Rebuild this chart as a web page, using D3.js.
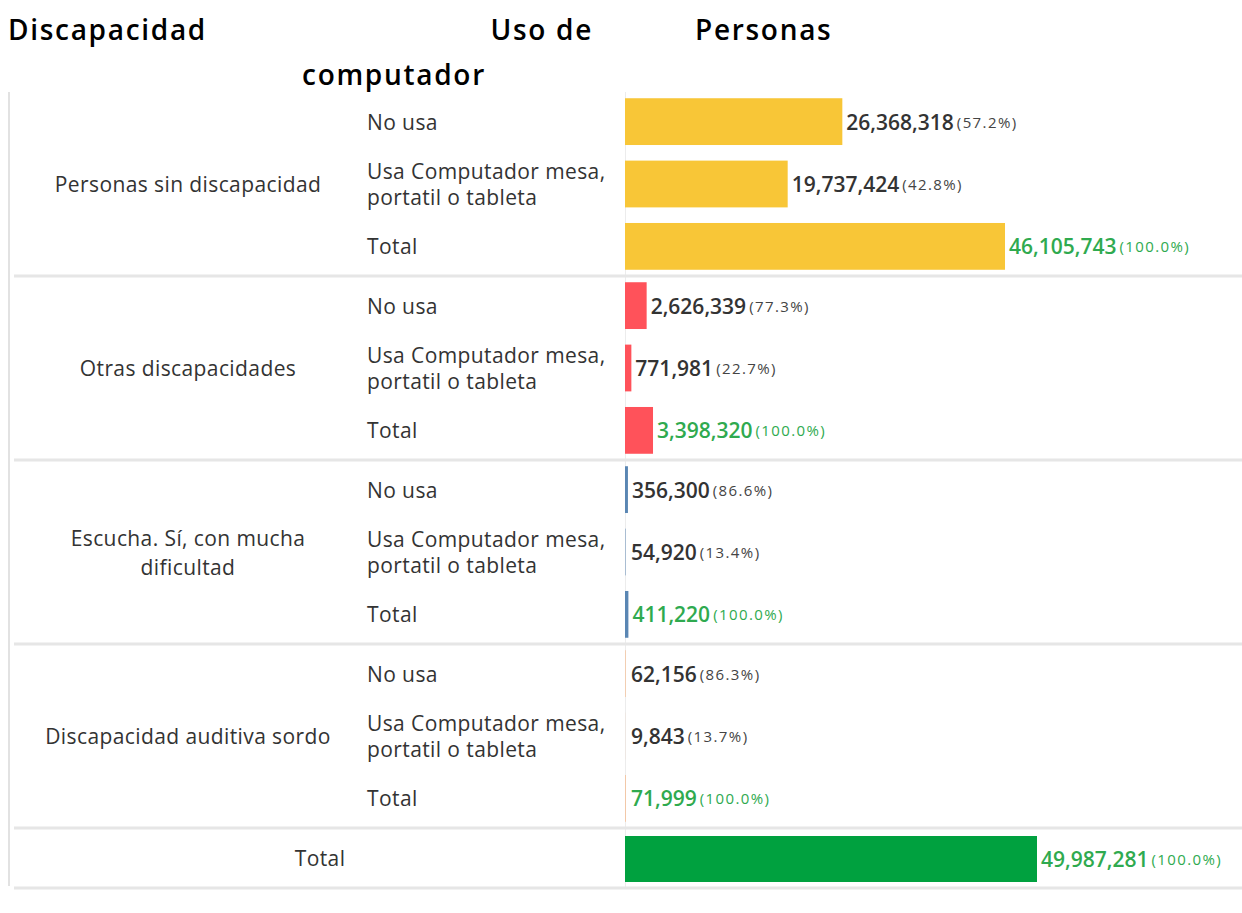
<!DOCTYPE html>
<html>
<head>
<meta charset="utf-8">
<script src="https://cdn.jsdelivr.net/npm/d3@7"></script>
<style>
  body { margin: 0; background: #fff; }
  svg { display: block; font-family: "Open Sans", sans-serif; }
</style>
</head>
<body>
<div id="chart"></div>
<script>
// categories
const discapacidades = ["Personas sin discapacidad", "Otras discapacidades", "Escucha. Sí, con mucha dificultad", "Discapacidad auditiva sordo"];
const usos = ["No usa", "Usa Computador mesa, portatil o tableta", "Total"];
// personas por grupo (No usa, Usa, Total)
const personas = [
  [26368318, 19737424, 46105743],
  [2626339, 771981, 3398320],
  [356300, 54920, 411220],
  [62156, 9843, 71999]
];
const porcentajes = [
  [57.2, 42.8, 100.0],
  [77.3, 22.7, 100.0],
  [86.6, 13.4, 100.0],
  [86.3, 13.7, 100.0]
];
const totalLabel = "Total";
const totalPersonas = 49987281;
const totalPct = 100.0;
const groupColors = ["#F8C637", "#FF525A", "#5A86B3", "#F7B07A"];
const totalColor = "#00A13F";

const width = 1242, height = 913;
const topY = 92, groupH = 184, totalH = 60;
const x0 = 625;

const svg = d3.select("#chart").append("svg")
    .attr("width", width)
    .attr("height", height);

// column headers
const hdr = svg.append("g")
    .style("font-size", "28px").style("font-weight", 600).style("fill", "#000")
    .style("letter-spacing", "1.7px");
hdr.append("text").attr("x", 8).attr("y", 40).text("Discapacidad");
hdr.append("text").attr("x", 593).attr("y", 40).attr("text-anchor", "end").text("Uso de");
hdr.append("text").attr("x", 394).attr("y", 85).attr("text-anchor", "middle").text("computador");
hdr.append("text").attr("x", 695).attr("y", 40).text("Personas");

const x = d3.scaleLinear()
    .domain([0, totalPersonas])
    .range([x0, 1037]);

const yGroup = d3.scaleBand()
    .domain(discapacidades)
    .range([topY, topY + groupH * discapacidades.length]);

const yRow = d3.scaleBand()
    .domain(usos)
    .range([0, groupH])
    .paddingInner(0.25)
    .paddingOuter(0.1);

const fmt = d3.format(",");
const fmtPct = d3.format(".1f");

// wrap text into tspans
function wrap(textSel, maxW, lineH) {
  textSel.each(function() {
    const t = d3.select(this);
    const words = t.text().split(/\s+/);
    const xPos = t.attr("x");
    t.text(null);
    let lines = [], line = [];
    const probe = t.append("tspan");
    words.forEach(w => {
      line.push(w);
      probe.text(line.join(" "));
      if (probe.node().getComputedTextLength() > maxW && line.length > 1) {
        line.pop();
        lines.push(line.join(" "));
        line = [w];
      }
    });
    lines.push(line.join(" "));
    probe.remove();
    lines.forEach((l, i) => {
      t.append("tspan")
        .attr("x", xPos)
        .attr("dy", i === 0 ? (-(lines.length - 1) / 2 * lineH) + "px" : lineH + "px")
        .text(l);
    });
  });
}

// grid lines
svg.append("line")
    .attr("x1", 9).attr("x2", 9).attr("y1", topY).attr("y2", topY + groupH * 4 + totalH - 2)
    .attr("stroke", "#e2e2e2").attr("stroke-width", 2);
svg.append("line")
    .attr("x1", x0 + 0.5).attr("x2", x0 + 0.5).attr("y1", topY).attr("y2", topY + groupH * 4 + totalH)
    .attr("stroke", "#ececec").attr("stroke-width", 1);
d3.range(1, discapacidades.length + 2).forEach(i => {
  const yy = topY + Math.min(i, 4) * groupH + (i > 4 ? totalH : 0);
  svg.append("line")
    .attr("x1", 14).attr("x2", width)
    .attr("y1", yy).attr("y2", yy)
    .attr("stroke", "#e6e6e6").attr("stroke-width", 3);
});

const group = svg.selectAll("g.grupo")
  .data(discapacidades)
  .join("g")
    .attr("class", "grupo")
    .attr("transform", d => `translate(0,${yGroup(d)})`);

group.append("text")
    .attr("x", 188)
    .attr("y", groupH / 2)
    .attr("text-anchor", "middle")
    .attr("dominant-baseline", "central")
    .style("font-size", "21px").style("font-weight", 500).style("fill", "#333")
    .style("letter-spacing", "0.4px")
    .text(d => d)
    .call(wrap, 300, 29);

const row = group.selectAll("g.fila")
  .data((d, gi) => usos.map((u, ri) => ({ uso: u, gi, v: personas[gi][ri], p: porcentajes[gi][ri] })))
  .join("g")
    .attr("class", "fila")
    .attr("transform", d => `translate(0,${yRow(d.uso)})`);

row.append("text")
    .attr("x", 367)
    .attr("y", yRow.bandwidth() / 2)
    .attr("dominant-baseline", "central")
    .style("font-size", "21px").style("font-weight", 500).style("fill", "#333")
    .style("letter-spacing", "0.4px")
    .text(d => d.uso)
    .call(wrap, 245, 27);

row.append("rect")
    .attr("x", x0)
    .attr("y", 0)
    .attr("width", d => x(d.v) - x0)
    .attr("height", yRow.bandwidth())
    .attr("fill", d => groupColors[d.gi]);

const lbl = row.append("text")
    .attr("x", d => Math.max(x(d.v), x0 + 2) + 4)
    .attr("y", yRow.bandwidth() / 2)
    .attr("dominant-baseline", "central")
    .style("fill", d => d.uso === "Total" ? "#2FAA4F" : "#333");
lbl.append("tspan")
    .style("font-size", "21px").style("font-weight", 600)
    .text(d => fmt(d.v));
lbl.append("tspan")
    .attr("dx", 3)
    .style("font-size", "15px").style("font-weight", 500)
    .style("letter-spacing", "1.4px")
    .style("fill", d => d.uso === "Total" ? "#2FAA4F" : "#444")
    .text(d => `(${fmtPct(d.p)}%)`);

// grand total row
const tot = svg.append("g").attr("transform", `translate(0,${topY + groupH * 4})`);
tot.append("text")
    .attr("x", 320).attr("y", totalH / 2)
    .attr("text-anchor", "middle").attr("dominant-baseline", "central")
    .style("font-size", "21px").style("font-weight", 500).style("fill", "#333")
    .style("letter-spacing", "0.4px")
    .text(totalLabel);
tot.append("rect")
    .attr("x", x0).attr("y", 8)
    .attr("width", x(totalPersonas) - x0).attr("height", totalH - 14)
    .attr("fill", totalColor);
const tl = tot.append("text")
    .attr("x", x(totalPersonas) + 4).attr("y", totalH / 2 + 1)
    .attr("dominant-baseline", "central")
    .style("fill", "#2FAA4F");
tl.append("tspan").style("font-size", "21px").style("font-weight", 600).text(fmt(totalPersonas));
tl.append("tspan").attr("dx", 3)
    .style("font-size", "15px").style("font-weight", 500).style("letter-spacing", "1.4px")
    .text(`(${fmtPct(totalPct)}%)`);
</script>
</body>
</html>
